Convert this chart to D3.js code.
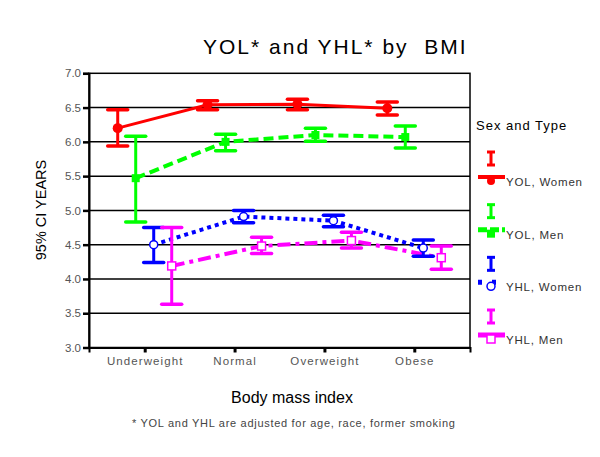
<!DOCTYPE html>
<html>
<head>
<meta charset="utf-8">
<script src="https://cdn.jsdelivr.net/npm/d3@7"></script>
<style>
  html, body { margin: 0; padding: 0; background: #fff; }
  svg { display: block; font-family: Arial, "Liberation Sans", sans-serif; }
</style>
</head>
<body>
<svg id="chart" width="600" height="457"></svg>
<script>
// ---- data ----
const categories = ["Underweight", "Normal", "Overweight", "Obese"];
const seriesNames = ["YOL, Women", "YOL, Men", "YHL, Women", "YHL, Men"];
const yolWomenMean  = [6.20, 6.54, 6.55, 6.49];
const yolWomenLow   = [5.94, 6.47, 6.47, 6.39];
const yolWomenHigh  = [6.47, 6.60, 6.62, 6.58];
const yolMenMean    = [5.47, 6.00, 6.10, 6.07];
const yolMenLow     = [4.83, 5.87, 6.01, 5.91];
const yolMenHigh    = [6.08, 6.11, 6.20, 6.23];
const yhlWomenMean  = [4.50, 4.91, 4.85, 4.45];
const yhlWomenLow   = [4.24, 4.82, 4.76, 4.33];
const yhlWomenHigh  = [4.75, 5.00, 4.93, 4.57];
const yhlMenMean    = [4.19, 4.48, 4.56, 4.31];
const yhlMenLow     = [3.63, 4.37, 4.45, 4.14];
const yhlMenHigh    = [4.75, 4.61, 4.68, 4.48];
const yTicks = [3.0, 3.5, 4.0, 4.5, 5.0, 5.5, 6.0, 6.5, 7.0];

// ---- styles (not data) ----
const styles = [
  { color: "#ff0000", dash: null,         width: 3, marker: "circleFilled" },
  { color: "#00ff00", dash: "10,5",       width: 4, marker: "squareFilled" },
  { color: "#0000ff", dash: "4,4",        width: 4, marker: "circleOpen" },
  { color: "#ff00ff", dash: "13,5,4,5",   width: 4, marker: "squareOpen" }
];
const series = [
  { mean: yolWomenMean, low: yolWomenLow, high: yolWomenHigh },
  { mean: yolMenMean,   low: yolMenLow,   high: yolMenHigh },
  { mean: yhlWomenMean, low: yhlWomenLow, high: yhlWomenHigh },
  { mean: yhlMenMean,   low: yhlMenLow,   high: yhlMenHigh }
];

const svg = d3.select("#chart");
const L = 89, R = 470, T = 73.3, B = 347.5;

const x = d3.scalePoint().domain(categories).range([L, R]).padding(0.62);
const off = d3.scalePoint().domain(seriesNames).range([-27, 27]);
const y = d3.scaleLinear().domain([3, 7]).range([B, T]);

// gridlines
svg.append("g").selectAll("line").data(yTicks.filter(d => d > 3 && d < 7)).join("line")
  .attr("x1", L).attr("x2", R).attr("y1", d => y(d)).attr("y2", d => y(d))
  .attr("stroke", "#000").attr("stroke-width", 1.5);

// frame
svg.append("rect").attr("x", L).attr("y", T).attr("width", R - L).attr("height", B - T)
  .attr("fill", "none").attr("stroke", "#000").attr("stroke-width", 1.5);

// y axis
const yAxis = d3.axisLeft(y).tickValues(yTicks).tickFormat(d3.format(".1f")).tickSize(6).tickPadding(2);
const gy = svg.append("g").attr("transform", `translate(${L},0)`).call(yAxis);
gy.select(".domain").attr("stroke", "#000").attr("stroke-width", 2);
gy.selectAll(".tick line").attr("stroke", "#000").attr("stroke-width", 2.5);
gy.selectAll(".tick text").attr("font-size", 11.5).attr("fill", "#555")
  .attr("font-family", "Arial, 'Liberation Sans', sans-serif");

// x axis
const xAxis = d3.axisBottom(x).tickSize(5).tickPadding(4);
const gx = svg.append("g").attr("transform", `translate(0,${B})`).call(xAxis);
gx.select(".domain").attr("stroke", "#000").attr("stroke-width", 2);
gx.selectAll(".tick line").attr("stroke", "#000").attr("stroke-width", 3);
gx.selectAll(".tick text").attr("font-size", 11.5).attr("fill", "#555")
  .attr("letter-spacing", 1.1)
  .attr("font-family", "Arial, 'Liberation Sans', sans-serif");

// lines
const lineGen = d3.line();
series.forEach((s, i) => {
  const st = styles[i];
  const pts = categories.map((c, j) => [x(c) + off(seriesNames[i]), y(s.mean[j])]);
  svg.append("path").attr("d", lineGen(pts)).attr("fill", "none")
    .attr("stroke", st.color).attr("stroke-width", st.width)
    .attr("stroke-dasharray", st.dash);
});

function drawMarker(g, type, cx, cy, color, size) {
  if (type === "circleFilled") {
    g.append("circle").attr("cx", cx).attr("cy", cy).attr("r", size).attr("fill", color);
  } else if (type === "squareFilled") {
    g.append("rect").attr("x", cx - size).attr("y", cy - size).attr("width", size * 2).attr("height", size * 2).attr("fill", color);
  } else if (type === "circleOpen") {
    g.append("circle").attr("cx", cx).attr("cy", cy).attr("r", size).attr("fill", "#fff").attr("stroke", color).attr("stroke-width", 1.5);
  } else {
    g.append("rect").attr("x", cx - size).attr("y", cy - size).attr("width", size * 2).attr("height", size * 2).attr("fill", "#fff").attr("stroke", color).attr("stroke-width", 1.5);
  }
}

// error bars + markers
series.forEach((s, i) => {
  const st = styles[i];
  const g = svg.append("g");
  categories.forEach((c, j) => {
    const cx = x(c) + off(seriesNames[i]);
    const y1 = y(s.high[j]), y2 = y(s.low[j]);
    g.append("line").attr("x1", cx).attr("x2", cx).attr("y1", y1).attr("y2", y2)
      .attr("stroke", st.color).attr("stroke-width", 3);
    [y1, y2].forEach(yy => g.append("line").attr("x1", cx - 10).attr("x2", cx + 10)
      .attr("y1", yy).attr("y2", yy).attr("stroke", st.color).attr("stroke-width", 3.5)
      .attr("stroke-linecap", "round"));
    drawMarker(g, st.marker, cx, y(s.mean[j]), st.color, i === 0 ? 5 : 4);
  });
});

// title
svg.append("text").attr("x", 203).attr("y", 54).attr("font-size", 21)
  .attr("letter-spacing", 2).attr("fill", "#000").text("YOL* and YHL* by  BMI")
  .attr("xml:space", "preserve").style("white-space", "pre");

// y title
svg.append("text").attr("transform", "translate(46,210) rotate(-90)")
  .attr("text-anchor", "middle").attr("font-size", 14.5).attr("fill", "#000")
  .text("95% CI YEARS");

// x title
svg.append("text").attr("x", 292).attr("y", 403).attr("text-anchor", "middle")
  .attr("font-size", 16).attr("fill", "#000").text("Body mass index");

// footnote
svg.append("text").attr("x", 132).attr("y", 427).attr("font-size", 11)
  .attr("letter-spacing", 0.7).attr("fill", "#444")
  .text("* YOL and YHL are adjusted for age, race, former smoking");

// legend
svg.append("text").attr("x", 476).attr("y", 130).attr("font-size", 13)
  .attr("letter-spacing", 1).attr("fill", "#000").text("Sex and Type");

const legY = d3.scalePoint().domain(seriesNames).range([177, 335]);
seriesNames.forEach((name, i) => {
  const st = styles[i];
  const g = svg.append("g");
  const ly = legY(name);
  const cx = 491;
  // error bar glyph
  g.append("line").attr("x1", cx).attr("x2", cx).attr("y1", ly - 25).attr("y2", ly - 12)
    .attr("stroke", st.color).attr("stroke-width", 3);
  [ly - 25, ly - 12].forEach(yy => g.append("line").attr("x1", cx - 4).attr("x2", cx + 4)
    .attr("y1", yy).attr("y2", yy).attr("stroke", st.color).attr("stroke-width", 3));
  // line sample
  g.append("line").attr("x1", 478).attr("x2", 505).attr("y1", ly).attr("y2", ly)
    .attr("stroke", st.color).attr("stroke-width", st.width + 1)
    .attr("stroke-dasharray", i === 1 ? "9,3" : (i === 2 ? "4,10" : null));
  drawMarker(g, st.marker, cx, ly + 4, st.color, 4);
  g.append("text").attr("x", 506).attr("y", ly + 9).attr("font-size", 11.5)
    .attr("letter-spacing", 0.8).attr("fill", "#333").text(name);
});
</script>
</body>
</html>
